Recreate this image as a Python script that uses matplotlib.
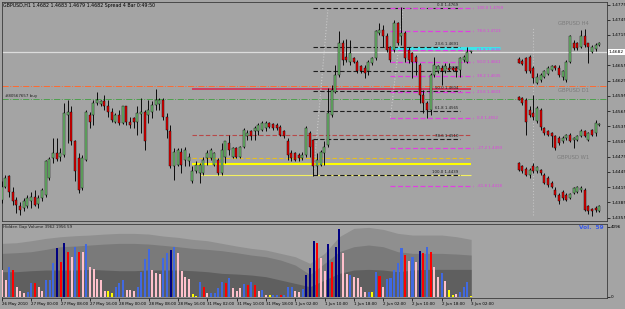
import numpy as np
import matplotlib
matplotlib.use('Agg')
import matplotlib.pyplot as plt

# ---- H1 candles (GBPUSD) ----
h1_open = [1.4390, 1.4416, 1.4436, 1.4406, 1.4390, 1.4378, 1.4373, 1.4378, 1.4387, 1.4396,
           1.4382, 1.4393, 1.4400, 1.4433, 1.4472, 1.4482, 1.4475, 1.4479, 1.4557, 1.4564,
           1.4505, 1.4472, 1.4413, 1.4469, 1.4557, 1.4557, 1.4580, 1.4579, 1.4584, 1.4574,
           1.4564, 1.4544, 1.4557, 1.4541, 1.4574, 1.4544, 1.4551, 1.4544, 1.4559, 1.4564,
           1.4557, 1.4564, 1.4577, 1.4579, 1.4587, 1.4554, 1.4525, 1.4456, 1.4459, 1.4485,
           1.4469, 1.4466, 1.4426, 1.4446, 1.4442, 1.4442, 1.4472, 1.4472, 1.4459, 1.4469,
           1.4442, 1.4475, 1.4502, 1.4475, 1.4492, 1.4475, 1.4495, 1.4515, 1.4525, 1.4525,
           1.4525, 1.4528, 1.4531, 1.4541, 1.4540, 1.4538, 1.4534, 1.4525, 1.4505, 1.4482,
           1.4482, 1.4479, 1.4472, 1.4479, 1.4521, 1.4508, 1.4456, 1.4459, 1.4482, 1.4498,
           1.4557, 1.4603, 1.4636, 1.4699, 1.4672, 1.4662, 1.4669, 1.4662, 1.4653, 1.4649,
           1.4643, 1.4659, 1.4669, 1.4718, 1.4725, 1.4712, 1.4692, 1.4685, 1.4738, 1.4712,
           1.4718, 1.4685, 1.4679, 1.4672, 1.4656, 1.4597, 1.4580, 1.4567, 1.4636, 1.4643,
           1.4649, 1.4643, 1.4649, 1.4649, 1.4649, 1.4646, 1.4666, 1.4662, 1.4682]
h1_high = [1.4426, 1.4439, 1.4439, 1.4416, 1.4396, 1.4385, 1.4393, 1.4400, 1.4406, 1.4410,
           1.4400, 1.4413, 1.4469, 1.4475, 1.4511, 1.4511, 1.4492, 1.4580, 1.4587, 1.4574,
           1.4508, 1.4482, 1.4479, 1.4567, 1.4564, 1.4587, 1.4603, 1.4587, 1.4597, 1.4587,
           1.4570, 1.4561, 1.4567, 1.4575, 1.4575, 1.4554, 1.4554, 1.4574, 1.4590, 1.4567,
           1.4587, 1.4584, 1.4608, 1.4590, 1.4590, 1.4561, 1.4538, 1.4492, 1.4492, 1.4492,
           1.4495, 1.4482, 1.4456, 1.4466, 1.4462, 1.4475, 1.4488, 1.4492, 1.4485, 1.4472,
           1.4502, 1.4505, 1.4518, 1.4495, 1.4495, 1.4496, 1.4531, 1.4528, 1.4528, 1.4536,
           1.4541, 1.4546, 1.4546, 1.4544, 1.4542, 1.4541, 1.4538, 1.4528, 1.4511, 1.4488,
           1.4485, 1.4482, 1.4485, 1.4536, 1.4525, 1.4508, 1.4482, 1.4488, 1.4505, 1.4610,
           1.4617, 1.4656, 1.4722, 1.4705, 1.4708, 1.4705, 1.4672, 1.4666, 1.4656, 1.4656,
           1.4666, 1.4672, 1.4725, 1.4738, 1.4735, 1.4718, 1.4693, 1.4745, 1.4741, 1.4771,
           1.4722, 1.4692, 1.4682, 1.4676, 1.4659, 1.4607, 1.4584, 1.4640, 1.4672, 1.4656,
           1.4656, 1.4659, 1.4659, 1.4653, 1.4653, 1.4672, 1.4676, 1.4692, 1.4683]
h1_low = [1.4384, 1.4413, 1.4396, 1.4380, 1.4364, 1.4360, 1.4367, 1.4373, 1.4373, 1.4377,
          1.4373, 1.4387, 1.4396, 1.4429, 1.4462, 1.4466, 1.4466, 1.4475, 1.4502, 1.4498,
          1.4426, 1.4403, 1.4410, 1.4466, 1.4531, 1.4538, 1.4577, 1.4574, 1.4567, 1.4554,
          1.4544, 1.4541, 1.4538, 1.4540, 1.4538, 1.4531, 1.4531, 1.4518, 1.4521, 1.4488,
          1.4541, 1.4551, 1.4567, 1.4567, 1.4548, 1.4511, 1.4452, 1.4429, 1.4456, 1.4442,
          1.4456, 1.4456, 1.4424, 1.4442, 1.4423, 1.4439, 1.4459, 1.4469, 1.4456, 1.4439,
          1.4439, 1.4462, 1.4479, 1.4472, 1.4472, 1.4472, 1.4492, 1.4508, 1.4508, 1.4508,
          1.4518, 1.4525, 1.4525, 1.4531, 1.4528, 1.4528, 1.4515, 1.4511, 1.4469, 1.4466,
          1.4466, 1.4466, 1.4469, 1.4475, 1.4475, 1.4436, 1.4439, 1.4456, 1.4459, 1.4495,
          1.4554, 1.4600, 1.4633, 1.4656, 1.4662, 1.4656, 1.4659, 1.4640, 1.4640, 1.4630,
          1.4636, 1.4656, 1.4666, 1.4715, 1.4692, 1.4682, 1.4662, 1.4682, 1.4695, 1.4695,
          1.4662, 1.4659, 1.4630, 1.4636, 1.4580, 1.4561, 1.4551, 1.4557, 1.4633, 1.4640,
          1.4617, 1.4640, 1.4643, 1.4643, 1.4633, 1.4633, 1.4662, 1.4659, 1.4679]
h1_close = [1.4416, 1.4433, 1.4406, 1.4387, 1.4380, 1.4369, 1.4387, 1.4393, 1.4396, 1.4380,
            1.4393, 1.4410, 1.4466, 1.4470, 1.4482, 1.4470, 1.4482, 1.4561, 1.4564, 1.4505,
            1.4446, 1.4410, 1.4472, 1.4564, 1.4544, 1.4580, 1.4587, 1.4584, 1.4575, 1.4564,
            1.4548, 1.4557, 1.4541, 1.4574, 1.4544, 1.4538, 1.4544, 1.4561, 1.4564, 1.4505,
            1.4567, 1.4577, 1.4587, 1.4587, 1.4554, 1.4528, 1.4456, 1.4485, 1.4488, 1.4459,
            1.4488, 1.4475, 1.4446, 1.4459, 1.4459, 1.4469, 1.4482, 1.4488, 1.4482, 1.4442,
            1.4488, 1.4505, 1.4488, 1.4492, 1.4475, 1.4495, 1.4528, 1.4521, 1.4515, 1.4531,
            1.4538, 1.4541, 1.4541, 1.4534, 1.4531, 1.4531, 1.4518, 1.4515, 1.4479, 1.4472,
            1.4469, 1.4472, 1.4479, 1.4531, 1.4495, 1.4456, 1.4469, 1.4485, 1.4495, 1.4561,
            1.4607, 1.4636, 1.4699, 1.4666, 1.4666, 1.4679, 1.4662, 1.4643, 1.4643, 1.4640,
            1.4662, 1.4669, 1.4722, 1.4725, 1.4712, 1.4685, 1.4666, 1.4738, 1.4699, 1.4718,
            1.4669, 1.4666, 1.4662, 1.4662, 1.4597, 1.4580, 1.4567, 1.4636, 1.4656, 1.4653,
            1.4643, 1.4653, 1.4646, 1.4645, 1.4643, 1.4669, 1.4672, 1.4682, 1.4682]

# ---- mini charts on the right (drawn on the H1 price scale) ----
h4_open = [1.4667, 1.4664, 1.4669, 1.4672, 1.4649, 1.4620, 1.4626, 1.4633, 1.4638, 1.4646, 1.4654, 1.4649,
           1.4633, 1.4626, 1.4662, 1.4699, 1.4699, 1.4692, 1.4712, 1.4699, 1.4682, 1.4687, 1.4695]
h4_high = [1.4672, 1.4667, 1.4672, 1.4676, 1.4653, 1.4640, 1.4640, 1.4646, 1.4653, 1.4656, 1.4656, 1.4656,
           1.4646, 1.4666, 1.4715, 1.4705, 1.4702, 1.4725, 1.4726, 1.4700, 1.4695, 1.4699, 1.4702]
h4_low = [1.4659, 1.4656, 1.4640, 1.4640, 1.4620, 1.4618, 1.4623, 1.4630, 1.4636, 1.4643, 1.4646, 1.4633,
          1.4626, 1.4623, 1.4659, 1.4685, 1.4685, 1.4689, 1.4692, 1.4659, 1.4679, 1.4684, 1.4694]
h4_close = [1.4660, 1.4658, 1.4643, 1.4643, 1.4630, 1.4633, 1.4636, 1.4643, 1.4649, 1.4654, 1.4649, 1.4636,
            1.4643, 1.4662, 1.4712, 1.4689, 1.4689, 1.4712, 1.4695, 1.4692, 1.4692, 1.4695, 1.4699]

d1_open = [1.4592, 1.4590, 1.4587, 1.4567, 1.4561, 1.4546, 1.4567, 1.4531, 1.4525, 1.4521, 1.4515, 1.4511,
           1.4505, 1.4511, 1.4518, 1.4508, 1.4508, 1.4515, 1.4525, 1.4508, 1.4528, 1.4521, 1.4538]
d1_high = [1.4595, 1.4593, 1.4590, 1.4574, 1.4597, 1.4574, 1.4570, 1.4534, 1.4528, 1.4523, 1.4518, 1.4515,
           1.4515, 1.4520, 1.4521, 1.4513, 1.4518, 1.4529, 1.4528, 1.4523, 1.4529, 1.4548, 1.4542]
d1_low = [1.4586, 1.4577, 1.4518, 1.4554, 1.4548, 1.4542, 1.4528, 1.4518, 1.4515, 1.4495, 1.4488, 1.4498,
          1.4502, 1.4508, 1.4503, 1.4492, 1.4505, 1.4513, 1.4513, 1.4505, 1.4516, 1.4515, 1.4536]
d1_close = [1.4587, 1.4580, 1.4544, 1.4557, 1.4554, 1.4570, 1.4534, 1.4521, 1.4518, 1.4515, 1.4492, 1.4502,
            1.4511, 1.4518, 1.4505, 1.4511, 1.4515, 1.4526, 1.4515, 1.4521, 1.4518, 1.4541, 1.4540]

w1_open = [1.4462, 1.4456, 1.4450, 1.4439, 1.4456, 1.4446, 1.4449, 1.4439, 1.4433, 1.4423, 1.4410, 1.4400,
           1.4406, 1.4400, 1.4393, 1.4404, 1.4406, 1.4410, 1.4410, 1.4377, 1.4371, 1.4373, 1.4367]
w1_high = [1.4465, 1.4459, 1.4454, 1.4452, 1.4462, 1.4457, 1.4450, 1.4442, 1.4436, 1.4426, 1.4416, 1.4403,
           1.4410, 1.4403, 1.4404, 1.4416, 1.4417, 1.4417, 1.4413, 1.4380, 1.4373, 1.4377, 1.4380]
w1_low = [1.4446, 1.4442, 1.4436, 1.4433, 1.4442, 1.4442, 1.4439, 1.4421, 1.4416, 1.4413, 1.4396, 1.4382,
          1.4390, 1.4387, 1.4391, 1.4402, 1.4403, 1.4406, 1.4367, 1.4362, 1.4357, 1.4365, 1.4365]
w1_close = [1.4449, 1.4446, 1.4439, 1.4449, 1.4446, 1.4454, 1.4442, 1.4423, 1.4419, 1.4416, 1.4400, 1.4387,
            1.4393, 1.4390, 1.4402, 1.4413, 1.4415, 1.4414, 1.4370, 1.4367, 1.4367, 1.4370, 1.4378]

# ---- fibonacci levels ----
fib_black_pct = ['0.0', '23.6', '38.2', '50.0', '61.8', '78.6', '100.0']
fib_black_px = [1.4769, 1.4691, 1.4643, 1.4604, 1.4565, 1.4510, 1.4439]
fib_mag_pct = ['100.0', '78.6', '61.8', '50.0', '38.2', '23.6', '0.0', '-27.2', '-61.8']
fib_mag_px = [1.4769, 1.4723, 1.4686, 1.4661, 1.4635, 1.4603, 1.4552, 1.4493, 1.4418]

price_ticks = [1.4775, 1.4745, 1.4715, 1.4655, 1.4625, 1.4595, 1.4565, 1.4535,
               1.4505, 1.4475, 1.4445, 1.4415, 1.4385, 1.4355]
bid = 1.4682

# ---- Hidden Gap Volume ----
volumes = [1560, 975, 1755, 1560, 585, 332, 234, 293, 780, 780,
           585, 351, 975, 975, 1989, 2828, 2048, 3159, 2594, 2301,
           2886, 2633, 2594, 3081, 1716, 1599, 1014, 975, 351, 332,
           234, 585, 780, 975, 390, 390, 351, 585, 1463, 2184,
           2769, 1560, 1404, 1326, 2243, 2535, 2730, 2925, 2535, 1521,
           1170, 1014, 156, 39, 878, 546, 234, 195, 195, 488,
           878, 780, 1073, 488, 351, 488, 741, 683, 839, 683,
           351, 390, 98, 80, 98, 98, 78, 98, 546, 585,
           351, 293, 429, 1268, 1697, 3257, 3159, 2282, 1521, 3081,
           2048, 2925, 3962, 2535, 1326, 1268, 1131, 1073, 585, 293,
           293, 293, 1463, 1209, 546, 1014, 1073, 1560, 1989, 2828,
           2418, 2106, 2301, 2048, 2672, 2535, 2886, 2633, 1755, 1131,
           1365, 936, 390, 78, 156, 293, 585, 878, 59]
vol_state = ("PPBRPPPBBR" "PPBBBNRNRP" "BRPBPPPPPY" "YBBBPPPBBB" "BPPPBBNBPP"
             "PPYYBRPBBB" "BRBPPPBRBR" "PBPYBBRBBB" "PPBNNNRPPN" "RNNPPBPPPP"
             "BYBRPBBBBB" "RPBPNRBRPP" "BPYYPBBBY")
band_idx = list(range(0, 129, 4))
band_hi = [3120, 3159, 3276, 3413, 3510, 3569, 3608, 3666, 3705, 3705, 3666, 3549, 3471, 3354, 3276, 3120, 2964,
           2828, 2730, 2535, 2340, 1950, 2535, 3510, 3998, 4056, 3939, 3705, 3608, 3608, 3608, 3510, 3354]
band_mid = [2535, 2574, 2633, 2769, 2925, 2964, 3023, 3081, 3120, 3120, 3081, 3003, 2925, 2828, 2769, 2691, 2574,
            2438, 2340, 2145, 1853, 1300, 1950, 2633, 2925, 3023, 2925, 2633, 2535, 2535, 2535, 2496, 2438]
band_lo = [1463, 1463, 1521, 1560, 1560, 1560, 1599, 1560, 1521, 1521, 1560, 1560, 1560, 1521, 1463, 1365, 1326,
           1268, 1170, 975, 780, 585, 975, 1365, 1560, 1599, 1560, 1463, 1560, 1599, 1599, 1599, 1599]

time_labels = ['26 May 2010', '27 May 00:00', '27 May 08:00', '27 May 16:00', '28 May 00:00',
               '28 May 08:00', '28 May 16:00', '31 May 02:00', '31 May 10:00', '31 May 18:00',
               '1 Jun 02:00', '1 Jun 10:00', '1 Jun 18:00', '2 Jun 02:00', '2 Jun 10:00',
               '2 Jun 18:00', '3 Jun 02:00']

BG = '#a4a4a4'
BULL = '#74c474'
BEAR = '#e80000'
VOL_COLORS = {'P': '#ffc0cb', 'R': '#ff0000', 'B': '#4169e1', 'N': '#000080', 'Y': '#ffff00'}

W, H = 625, 309
fig = plt.figure(figsize=(6.25, 3.09), dpi=100, facecolor=BG)


def px_axes(x0, y0, x1, y1):
    return fig.add_axes([x0 / W, 1 - y1 / H, (x1 - x0) / W, (y1 - y0) / H])


def draw_candles(ax, xs, o, h, l, c, width=0.56):
    o, h, l, c = map(np.asarray, (o, h, l, c))
    up = c >= o
    ax.vlines(xs, l, h, color='black', lw=0.65, zorder=3)
    ax.bar(xs, np.maximum(np.abs(c - o), 0.00004), width, np.minimum(o, c),
           color=np.where(up, BULL, BEAR), edgecolor='black', lw=0.3, zorder=4)


def style(ax):
    ax.set_facecolor(BG)
    for s in ax.spines.values():
        s.set_color('#3a3a3a')
        s.set_linewidth(0.6)


ax = px_axes(2, 2, 607, 221)
axv = px_axes(2, 224, 607, 298)
style(ax)
style(axv)
XL = (0.08, 165.07)

# main price panel
n = len(h1_open)
draw_candles(ax, np.arange(n), h1_open, h1_high, h1_low, h1_close)
for o, hh, ll, c in [(h4_open, h4_high, h4_low, h4_close),
                     (d1_open, d1_high, d1_low, d1_close),
                     (w1_open, w1_high, w1_low, w1_close)]:
    draw_candles(ax, np.arange(141, 141 + len(o)), o, hh, ll, c)
ax.text(155.8, 1.4737, 'GBPUSD H4', color='#7c7c7c', fontsize=3.8, ha='center', va='center')
ax.text(155.8, 1.4606, 'GBPUSD D1', color='#7c7c7c', fontsize=3.8, ha='center', va='center')
ax.text(155.8, 1.4473, 'GBPUSD W1', color='#7c7c7c', fontsize=3.8, ha='center', va='center')
ax.vlines(144.8, 1.4360, 1.4729, colors='#c4c4c4', linestyles=':', lw=0.8, zorder=2)

# horizontal objects
ax.axhline(bid, color='#dcdcdc', lw=0.9, zorder=2)
ax.axhline(1.4614, color='#ff6a30', lw=0.7, ls='-.', zorder=2)
ax.axhline(1.4589, color='#4ea04e', lw=0.7, ls='-.', zorder=2)
ax.text(0.8, 1.4595, '#80567657 buy', fontsize=2.9, color='#202020', va='center')
ax.hlines(1.4609, 52, 128, color='#cc3f62', lw=1.4, zorder=2)
ax.hlines(1.4518, 52, 128, color='#b84848', lw=0.8, ls=(0, (4, 2)), zorder=2)
ax.hlines(1.4472, 52, 128, color='#e8c020', lw=0.8, ls=(0, (4, 2)), zorder=2)
ax.hlines(1.4460, 52, 128, color='#ffff00', lw=1.5, zorder=2)
ax.hlines(1.4439, 54, 128, color='#f4f060', lw=0.8, zorder=2)
ax.hlines(1.4690, 106, 136, color='#3ee4e8', lw=2.2, zorder=2)

# fibonacci objects
ax.plot([85, 89], [1.4439, 1.4769], color='#c8c8c8', ls=':', lw=0.8, zorder=2)
ax.plot([106, 109.5], [1.4552, 1.4769], color='#c8c8c8', ls=':', lw=0.8, zorder=2)
for pct, p in zip(fib_black_pct, fib_black_px):
    ax.hlines(p, 85, 125, color='#1e1e1e', lw=0.8, ls=(0, (4, 2)), zorder=2)
    ax.text(124.6, p + 0.0002, f'{pct} {p:.4f}', fontsize=2.8, color='#1e1e1e',
            ha='right', va='bottom', zorder=2)
for pct, p in zip(fib_mag_pct, fib_mag_px):
    ax.hlines(p, 106, 128.5, color='#e040e0', lw=0.9, ls=(0, (4, 2)), zorder=2)
    ax.text(129.6, p, f'{pct} {p:.4f}', fontsize=2.8, color='#e040e0',
            ha='left', va='center', zorder=2)

ax.text(0.002, 0.995, 'GBPUSD,H1 1.4682 1.4683 1.4679 1.4682 Spread 4 Bar 0:49:50',
        transform=ax.transAxes, fontsize=3.4, va='top', ha='left', color='black')

ax.set_xlim(*XL)
ax.set_ylim(1.43481, 1.47800)
ax.set_xticks([])
ax.yaxis.tick_right()
ax.set_yticks(price_ticks)
ax.set_yticklabels([f'{t:.4f}' for t in price_ticks])
ax.tick_params(axis='y', length=2, width=0.5, pad=1, labelsize=3.2, colors='black')
ax.text(1.003, bid, f'{bid:.4f}', transform=ax.get_yaxis_transform(), fontsize=3.2,
        va='center', ha='left', color='black', clip_on=False,
        bbox=dict(boxstyle='square,pad=0.2', fc='white', ec='none'))

# volume panel
axv.fill_between(band_idx, 0, band_hi, color='#8f8f8f', lw=0, zorder=1)
axv.fill_between(band_idx, 0, band_mid, color='#7a7a7a', lw=0, zorder=1)
axv.fill_between(band_idx, 0, band_lo, color='#5f5f5f', lw=0, zorder=1)
axv.bar(np.arange(len(volumes)), volumes, 0.55, color=[VOL_COLORS[s] for s in vol_state], lw=0, zorder=3)
axv.text(0.002, 0.98, 'Hidden Gap Volume 3962 1956 59', transform=axv.transAxes,
         fontsize=2.9, va='top', ha='left', color='#1e1e1e')
axv.text(0.995, 0.95, 'Vol.  59', transform=axv.transAxes, fontsize=4.2,
         va='center', ha='right', color='#3a5ae8', fontweight='bold')
axv.set_xlim(*XL)
axv.set_ylim(-76, 4254)
axv.yaxis.tick_right()
axv.set_yticks([0, 4096])
axv.set_yticklabels(['0', '4096'])
axv.tick_params(axis='y', length=2, width=0.5, pad=1, labelsize=3.0, colors='black')
axv.set_xticks(range(0, 129, 8))
axv.set_xticklabels(time_labels, ha='left')
axv.tick_params(axis='x', length=2.5, width=0.5, pad=0.5, labelsize=2.9, colors='black')

fig.savefig('out.png', dpi=100, facecolor=BG)
